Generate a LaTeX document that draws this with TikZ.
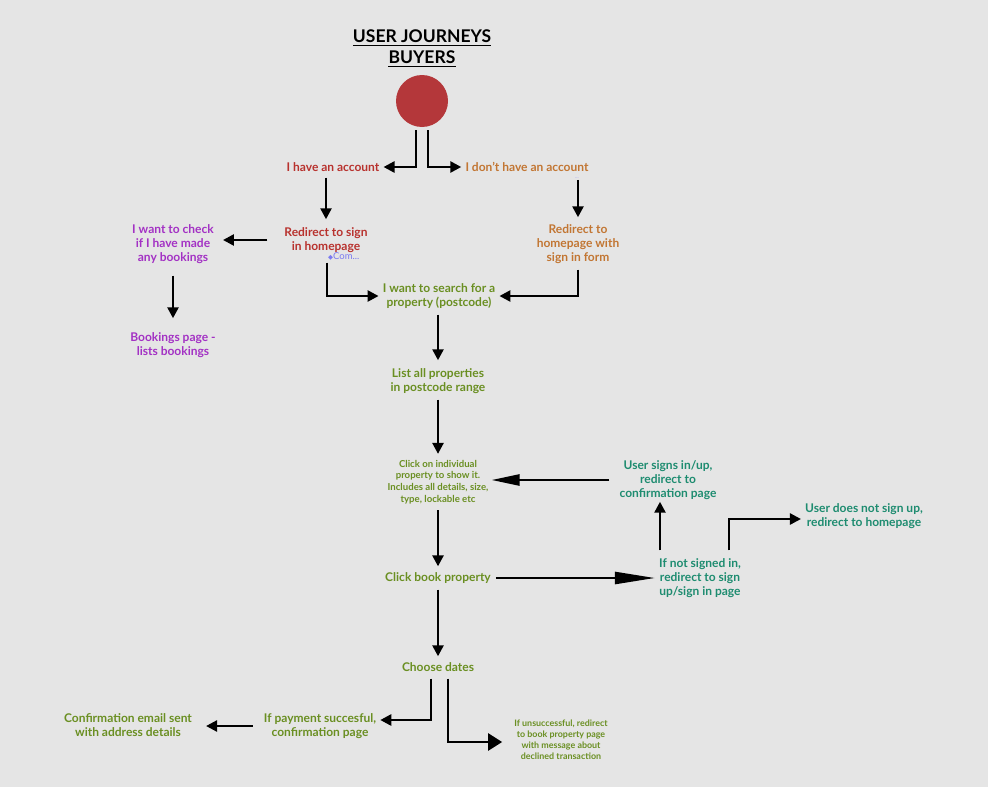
\documentclass[tikz,border=0pt]{standalone}
\usepackage{fontspec}
\setmainfont{Lato}
\newfontfamily\symfont{DejaVu Sans}
\usetikzlibrary{arrows.meta}
\definecolor{bg}{HTML}{E5E5E5}
\definecolor{cred}{HTML}{B8322E}
\definecolor{ccirc}{HTML}{B4373A}
\definecolor{corange}{HTML}{C27633}
\definecolor{cpurple}{HTML}{A331C4}
\definecolor{cgreen}{HTML}{6A8F22}
\definecolor{cteal}{HTML}{1E8C70}
\definecolor{ccom}{HTML}{7B7BF0}
\begin{document}
\begin{tikzpicture}[x=1pt,y=-1pt,
  title/.style={font=\fontsize{17.5}{20}\selectfont\bfseries, inner sep=0pt},
  lbl/.style={font=\fontsize{12}{14}\selectfont\bfseries, align=center, inner sep=4pt},
  sm/.style={font=\fontsize{9.6}{11.7}\selectfont\bfseries, align=center, inner sep=4pt},
  smm/.style={font=\fontsize{8.9}{11}\selectfont\bfseries, align=center, inner sep=4pt},
  arr/.style={line width=2.5pt, -{Triangle[length=11pt,width=11pt]}},
  longarr/.style={line width=2.5pt, -{Triangle[length=40pt,width=12pt]}},
  medarr/.style={line width=2.5pt, -{Triangle[length=28pt,width=11pt]}},
  bigarr/.style={line width=2.5pt, -{Triangle[length=14pt,width=17pt]}},
  uline/.style={line width=1.6pt}]
\useasboundingbox (0,0) rectangle (988,787);
\fill[bg] (0,0) rectangle (988,787);

% title
\node[title] (t1) at (422,36) {USER JOURNEYS};
\node[title] (t2) at (422,57) {BUYERS};
\draw[uline] ([yshift=-3pt]t1.base west) -- ([yshift=-3pt]t1.base east);
\draw[uline] ([yshift=-3pt]t2.base west) -- ([yshift=-3pt]t2.base east);

\node[circle, fill=ccirc, minimum size=52pt, inner sep=0pt] (start) at (422,101) {};

% nodes
\node[lbl, text=cred] (acc) at (333,167) {I have an account};
\node[lbl, text=corange] (noacc) at (527,167) {I don’t have an account};
\node[lbl, text=cred] (redir) at (326,240) {Redirect to sign\\in homepage};
\node[lbl, text=cpurple] (check) at (173,244) {I want to check\\if I have made\\any bookings};
\node[lbl, text=cpurple] (bookings) at (173,345) {Bookings page -\\lists bookings};
\node[lbl, text=corange] (redirform) at (578,244) {Redirect to\\homepage with\\sign in form};
\node[lbl, text=cgreen] (search) at (439,296) {I want to search for a\\property (postcode)};
\node[lbl, text=cgreen] (list) at (438,381) {List all properties\\in postcode range};
\node[sm, text=cgreen] (indiv) at (438,482) {Click on individual\\property to show it.\\Includes all details, size,\\type, lockable etc};
\node[lbl, text=cgreen] (book) at (438,578) {Click book property};
\node[lbl, text=cteal] (notsigned) at (700,578) {If not signed in,\\redirect to sign\\up/sign in page};
\node[lbl, text=cteal] (signs) at (668,480) {User signs in/up,\\redirect to\\confirmation page};
\node[lbl, text=cteal] (nosign) at (864,516) {User does not sign up,\\redirect to homepage};
\node[lbl, text=cgreen] (dates) at (438,667) {Choose dates};
\node[lbl, text=cgreen] (paid) at (320,726) {If payment succesful,\\confirmation page};
\node[lbl, text=cgreen] (email) at (128,725) {Confirmation email sent\\with address details};
\node[smm, text=cgreen] (fail) at (561,740) {If unsuccessful, redirect\\to book property page\\with message about\\declined transaction};

% comment markers
\node[inner sep=0pt, text=ccom, font=\fontsize{9.5}{10}\selectfont, anchor=west] (com) at (328,256) {{\symfont\fontsize{6.5}{7}\selectfont ◆}Com...};
\node[inner sep=0pt, text=ccom!70, font=\fontsize{5}{6}\selectfont] (dots) at (577,178) {...};

% connectors
\draw[arr, shorten <=3pt] ([xshift=-6pt]start.south) |- (acc.east);
\draw[arr, shorten <=3pt] ([xshift=6pt]start.south) |- (noacc.west);
\draw[arr, shorten <=2pt, shorten >=4pt] (redir.north |- acc.south) -- (redir.north);
\draw[arr, shorten <=4pt, shorten >=3pt] (redirform.north |- noacc.south) -- (redirform.north);
\draw[arr, shorten <=13pt, shorten >=5pt] (redir.west) -- (redir.west -| check.east);
\draw[arr, shorten <=8pt, shorten >=10pt] (check.south) -- (bookings.north);
\draw[arr, shorten <=6pt] ([xshift=1pt]redir.south) |- (search.west);
\draw[arr, shorten <=2pt] (redirform.south) |- (search.east);
\draw[arr, shorten <=2pt, shorten >=4pt] (search.south -| list.north) -- (list.north);
\draw[arr, shorten <=2pt, shorten >=2pt] (list.south) -- (indiv.north);
\draw[arr, shorten <=2pt, shorten >=2pt] (indiv.south) -- (book.north);
\draw[longarr, shorten <=1pt] (book.east) -- (book.east -| notsigned.west);
\draw[arr, shorten <=4pt, shorten >=-2pt] ([xshift=-40pt]notsigned.north) -- ([xshift=-40pt]notsigned.north |- signs.south);
\draw[medarr, shorten <=6pt, shorten >=-1pt] (signs.west) -- (signs.west -| indiv.east);
\draw[arr, shorten <=4pt] ([xshift=29pt]notsigned.north) |- ([yshift=-3pt]nosign.west);
\draw[arr, shorten <=2pt, shorten >=2pt] (book.south) -- (dates.north);
\draw[arr, shorten <=3pt] ([xshift=-7pt]dates.south) |- ([yshift=6pt]paid.east);
\draw[bigarr, shorten <=3pt, shorten >=8pt] ([xshift=10pt]dates.south) |- ([yshift=-2pt]fail.west);
\draw[arr, shorten <=7pt, shorten >=10pt] (paid.west) -- (paid.west -| email.east);
\end{tikzpicture}
\end{document}
